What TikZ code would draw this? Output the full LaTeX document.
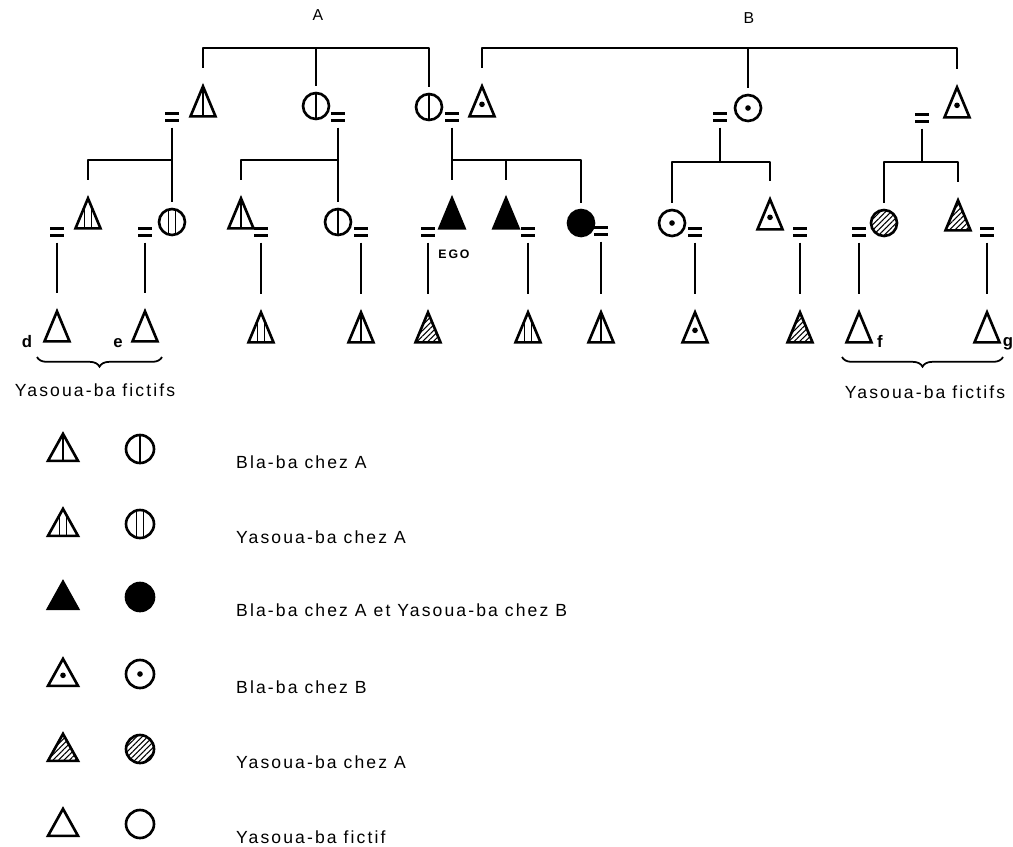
\documentclass[tikz,border=0pt]{standalone}
\usepackage{fontspec}
\setmainfont{Liberation Sans}
\usetikzlibrary{shapes.geometric,patterns.meta,decorations.pathreplacing}

\tikzset{
  person/.style={draw, line width=1.5pt, inner sep=0pt, outer sep=4pt},
  tri/.style={person, isosceles triangle, isosceles triangle stretches,
    shape border rotate=90, minimum width=0.5cm, minimum height=0.6cm},
  circ/.style={person, circle, minimum size=0.52cm},
  % inner marks
  blaA/.style={path picture={\draw[line width=1.1pt]
    (path picture bounding box.north) -- (path picture bounding box.south);}},
  yasA/.style={path picture={\draw[line width=1.1pt]
    ([xshift=-2pt]path picture bounding box.north) -- ([xshift=-2pt]path picture bounding box.south)
    ([xshift=2pt]path picture bounding box.north) -- ([xshift=2pt]path picture bounding box.south);}},
  both/.style={fill=black},
  blaB/.style={path picture={\fill ([yshift=-1.7pt]path picture bounding box.center) circle (1.6pt);}},
  dotc/.style={path picture={\fill (path picture bounding box.center) circle (1.6pt);}},
  yasB/.style={pattern={Lines[angle=45,distance=2.2pt,line width=0.6pt]}},
  fict/.style={},
  % marriage sign
  eqbar/.style={draw, line width=1.5pt},
  eq/.style={minimum width=0.28cm, minimum height=0.14cm, inner sep=0pt, outer sep=0pt,
    append after command={(\tikzlastnode.north west) edge[eqbar] (\tikzlastnode.north east)
      (\tikzlastnode.south west) edge[eqbar] (\tikzlastnode.south east)}},
  kin/.style={line width=1.5pt, line join=round},
  gap/.style={shorten <=4pt},
  head/.style={font=\fontsize{9}{10}\selectfont},
  tag/.style={font=\bfseries\fontsize{9.5}{10}\selectfont\addfontfeature{LetterSpace=10}},
  txt/.style={font=\fontsize{10}{12}\selectfont\addfontfeature{LetterSpace=12}},
  fictbrace/.style={decorate, decoration={brace, mirror, amplitude=5.5pt}, line width=1pt},
}

\begin{document}
\begin{tikzpicture}[x=0.02cm, y=-0.02cm]
  \useasboundingbox (0,0) rectangle (1013,846);

  % lineages
  \node[head] (tA) at (318,15) {A};
  \node[head] (tB) at (749,18) {B};
  \coordinate (sibA) at (316,48);
  \coordinate (sibB) at (748,48);

  % first generation
  \node[tri, blaA] (a1) at (203,108) {};
  \node[circ, blaA] (a2) at (316,106) {};
  \node[circ, blaA] (a3) at (429,107) {};
  \node[tri, blaB] (b1) at (482,108) {};
  \node[circ, dotc] (b2) at (748,108) {};
  \node[tri, blaB] (b3) at (957,109) {};

  \draw[kin] (a1) |- (sibA) -| (a3);
  \draw[kin] (a2) -- (a2 |- sibA);
  \draw[kin] (b1) |- (sibB) -| (b3);
  \draw[kin] (b2) -- (b2 |- sibB);

  \node[eq] (e1) at (172,117) {};
  \node[eq] (e2) at (338,117) {};
  \node[eq] (e3) at (452,117) {};
  \node[eq] (e4) at (720,117) {};
  \node[eq] (e5) at (922,118) {};

  % second generation
  \node[tri, yasA] (c1) at (88,220) {};
  \node[circ, yasA] (c2) at (172,222) {};
  \node[tri, blaA] (c3) at (241,220) {};
  \node[circ, blaA] (c4) at (338,222) {};
  \node[tri, both] (c5) at (452,220) {};
  \node[tri, both] (c6) at (506,220) {};
  \node[circ, both] (c7) at (581,223) {};
  \node[circ, dotc] (c8) at (672,223) {};
  \node[tri, blaB] (c9) at (770,221) {};
  \node[circ, yasB] (c10) at (884,223) {};
  \node[tri, yasB] (c11) at (958,222) {};
  \node[tag, font=\bfseries\fontsize{7}{8}\selectfont\addfontfeature{LetterSpace=15}] (ego) at (454,254) {EGO};

  \coordinate (f1) at (172,160);
  \coordinate (f2) at (338,160);
  \coordinate (f3) at (452,160);
  \coordinate (f4) at (720,162);
  \coordinate (f5) at (922,162);

  \draw[kin, gap] (e1) -- (c2);
  \draw[kin] (c1) |- (f1);
  \draw[kin, gap] (e2) -- (c4);
  \draw[kin] (c3) |- (f2);
  \draw[kin, gap] (e3) -- (c5);
  \draw[kin] (c7) |- (f3);
  \draw[kin] (c6) -- (c6 |- f3);
  \draw[kin, gap] (e4) -- (f4);
  \draw[kin] (c8) |- (f4) -| (c9);
  \draw[kin, gap] (e5) -- (f5);
  \draw[kin] (c10) |- (f5) -| (c11);

  \node[eq] (g1) at (57,232) {};
  \node[eq] (g2) at (145,232) {};
  \node[eq] (g3) at (261,232) {};
  \node[eq] (g4) at (361,232) {};
  \node[eq] (g5) at (428,232) {};
  \node[eq] (g6) at (528,232) {};
  \node[eq] (g7) at (601,231) {};
  \node[eq] (g8) at (695,232) {};
  \node[eq] (g9) at (800,232) {};
  \node[eq] (g10) at (859,232) {};
  \node[eq] (g11) at (987,232) {};

  % third generation
  \node[tri, fict] (d1) at (57,333) {};
  \node[tri, fict] (d2) at (145,333) {};
  \node[tri, yasA] (d3) at (261,334) {};
  \node[tri, blaA] (d4) at (361,334) {};
  \node[tri, yasB] (d5) at (428,334) {};
  \node[tri, yasA] (d6) at (528,334) {};
  \node[tri, blaA] (d7) at (601,334) {};
  \node[tri, blaB] (d8) at (695,334) {};
  \node[tri, yasB] (d9) at (800,334) {};
  \node[tri, fict] (d10) at (859,334) {};
  \node[tri, fict] (d11) at (987,334) {};

  \foreach \i in {1,...,11}
    \draw[kin, gap] (g\i) -- (d\i);

  \node[tag] (ld) at (27,342) {d};
  \node[tag] (le) at (118,343) {e};
  \node[tag] (lf) at (880,341) {f};
  \node[tag] (lg) at (1008,344) {g};

  % fictive yasoua-ba
  \coordinate (y1) at (37,357);
  \coordinate (y2) at (162,357);
  \coordinate (y3) at (842,357);
  \coordinate (y4) at (1003,357);
  \draw[fictbrace] (y1) -- (y2);
  \draw[fictbrace] (y3) -- (y4);
  \node[txt] (fl) at (95,390) {Yasoua-ba fictifs};
  \node[txt] (fr) at (925,392) {Yasoua-ba fictifs};

  % key
  \foreach \y/\ts/\cs/\txt [count=\i] in {
      452/blaA/blaA/{Bla-ba chez A},
      527/yasA/yasA/{Yasoua-ba chez A},
      600/both/both/{Bla-ba chez A et Yasoua-ba chez B},
      677/blaB/dotc/{Bla-ba chez B},
      752/yasB/yasB/{Yasoua-ba chez A},
      827/fict/fict/{Yasoua-ba fictif}} {
    \node[tri, \ts, minimum width=0.6cm, minimum height=0.54cm] (kt\i) at (63,\y) {};
    \node[circ, \cs, minimum size=0.56cm] (kc\i) at (140,\y-3) {};
    \node[txt, anchor=west] (kx\i) at (230,\y+10) {\txt};
  }
\end{tikzpicture}
\end{document}
